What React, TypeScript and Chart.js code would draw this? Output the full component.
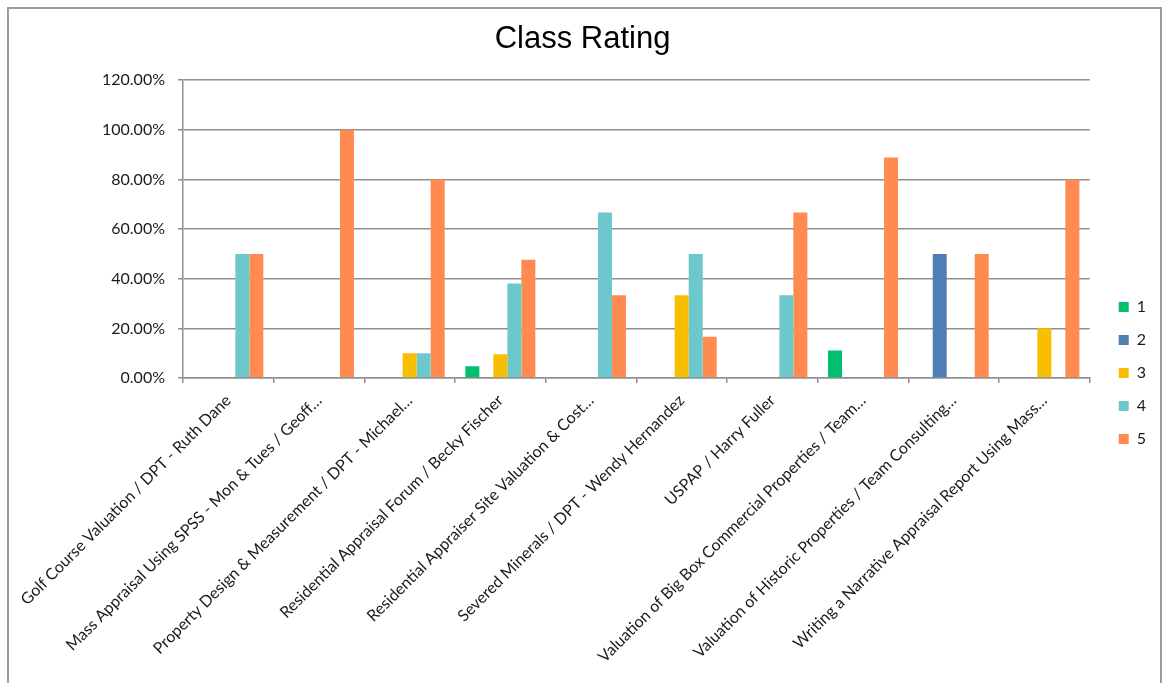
import { useEffect, useRef } from 'react';
import { Chart, registerables } from 'chart.js';

Chart.register(...registerables);

const categories = [
  'Golf Course Valuation / DPT - Ruth Dane',
  'Mass Appraisal Using SPSS - Mon & Tues / Geoff…',
  'Property Design & Measurement / DPT - Michael…',
  'Residential Appraisal Forum / Becky Fischer',
  'Residential Appraiser Site Valuation & Cost…',
  'Severed Minerals / DPT - Wendy Hernandez',
  'USPAP / Harry Fuller',
  'Valuation of Big Box Commercial Properties / Team…',
  'Valuation of Historic Properties / Team Consulting…',
  'Writing a Narrative Appraisal Report Using Mass…',
];

const seriesNames = ['1', '2', '3', '4', '5'];

const rating1 = [0, 0, 0, 4.76, 0, 0, 0, 11.11, 0, 0];
const rating2 = [0, 0, 0, 0, 0, 0, 0, 0, 50, 0];
const rating3 = [0, 0, 10, 9.52, 0, 33.33, 0, 0, 0, 20];
const rating4 = [50, 0, 10, 38.1, 66.67, 50, 33.33, 0, 0, 0];
const rating5 = [50, 100, 80, 47.62, 33.33, 16.67, 66.67, 88.89, 50, 80];

const seriesColors = ['#00BF6F', '#4F7DB5', '#F8BE00', '#6CC8CC', '#FF8B50'];

const yMin = 0;
const yMax = 120;
const yStep = 20;

const titleText = 'Class Rating';

export default function App() {
  const canvasRef = useRef<HTMLCanvasElement>(null);

  useEffect(() => {
    const canvas = canvasRef.current;
    if (!canvas) return;
    const series = [rating1, rating2, rating3, rating4, rating5];
    const gridColor = '#8f8f8f';
    const chart = new Chart(canvas, {
      type: 'bar',
      data: {
        labels: categories,
        datasets: series.map((vals, i) => ({
          label: seriesNames[i],
          data: vals,
          backgroundColor: seriesColors[i],
          borderWidth: 0,
          categoryPercentage: 0.772,
          barPercentage: 1.0,
        })),
      },
      options: {
        responsive: false,
        animation: false,
        layout: { padding: { left: 0, right: 4, top: 0, bottom: 0 } },
        plugins: {
          title: {
            display: true,
            text: titleText,
            color: '#000000',
            font: { family: '"Liberation Sans", Arial, sans-serif', size: 31, weight: 'normal' },
            padding: { top: 12, bottom: 22 },
          },
          legend: {
            position: 'right',
            title: {
              display: true,
              text: ' ',
              font: { size: 10 },
              padding: { top: 42, bottom: 0 },
            },
            labels: {
              boxWidth: 10,
              boxHeight: 10,
              padding: 17,
              color: '#1a1a1a',
              font: { family: 'Lato, "Open Sans", sans-serif', size: 16 },
            },
          },
          tooltip: { enabled: false },
        },
        scales: {
          x: {
            grid: {
              display: true,
              drawOnChartArea: false,
              drawTicks: true,
              tickLength: 5,
              color: gridColor,
              lineWidth: 1.5,
              offset: true,
            },
            border: { display: true, color: gridColor, width: 1.5 },
            ticks: {
              autoSkip: false,
              minRotation: 45,
              maxRotation: 45,
              color: '#1a1a1a',
              font: { family: 'Lato, "Open Sans", sans-serif', size: 16 },
              padding: 8,
            },
            afterFit: (scale: any) => {
              scale.height = 305;
              scale.paddingLeft = 0;
              scale.paddingRight = 0;
            },
          },
          y: {
            min: yMin,
            max: yMax,
            grid: {
              color: gridColor,
              lineWidth: 1.5,
              drawTicks: true,
              tickLength: 5,
            },
            border: { display: true, color: gridColor, width: 1.5 },
            ticks: {
              stepSize: yStep,
              color: '#1a1a1a',
              padding: 13,
              font: { family: 'Lato, "Open Sans", sans-serif', size: 16 },
              callback: (v: any) => Number(v).toFixed(2) + '%',
            },
            afterFit: (scale: any) => {
              scale.width = 174;
            },
          },
          y2: {
            type: 'linear',
            position: 'right',
            display: true,
            grid: { display: false, drawTicks: false },
            border: { display: false },
            ticks: { display: false },
            afterFit: (scale: any) => {
              scale.width = 12;
            },
          },
        },
      } as any,
    });
    return () => chart.destroy();
  }, []);

  return (
    <div
      style={{
        position: 'absolute',
        left: 7,
        top: 7,
        width: 1155,
        height: 676,
        boxSizing: 'border-box',
        borderTop: '2px solid #9c9c9c',
        borderLeft: '2px solid #9c9c9c',
        borderRight: '2px solid #9c9c9c',
        background: '#ffffff',
        overflow: 'hidden',
      }}
    >
      <canvas ref={canvasRef} width={1151} height={674} style={{ display: 'block' }} />
    </div>
  );
}
